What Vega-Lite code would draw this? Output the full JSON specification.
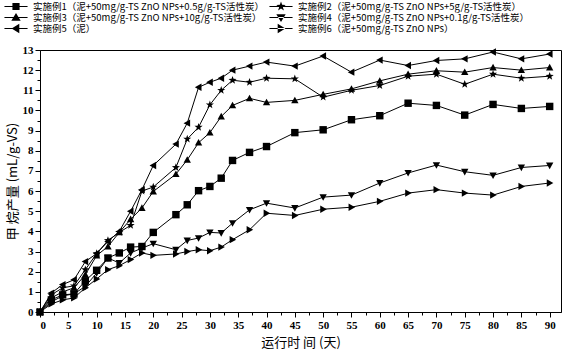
{
  "$schema": "https://vega.github.io/schema/vega-lite/v6.json",
  "width": 521,
  "height": 262,
  "autosize": {"type": "none"},
  "padding": {"left": 40, "top": 50, "right": 22, "bottom": 44},
  "background": "white",
  "config": {
    "view": {"stroke": "black", "strokeWidth": 1},
    "axis": {
      "domainColor": "black",
      "tickColor": "black",
      "labelColor": "black",
      "titleColor": "black",
      "grid": false,
      "labelFont": "Liberation Serif",
      "labelFontWeight": "bold",
      "labelFontSize": 11,
      "titleFont": "Noto Sans CJK SC",
      "titleFontWeight": "normal",
      "titleFontSize": 13
    }
  },
  "data": {
    "values": [
      {"d":0,"s":1,"v":0},{"d":2,"s":1,"v":0.6},{"d":4,"s":1,"v":0.85},{"d":6,"s":1,"v":0.9},{"d":8,"s":1,"v":1.55},{"d":10,"s":1,"v":2.07},{"d":12,"s":1,"v":2.68},{"d":14,"s":1,"v":2.93},{"d":16,"s":1,"v":3.22},{"d":18,"s":1,"v":3.25},{"d":20,"s":1,"v":3.95},{"d":24,"s":1,"v":4.83},{"d":26,"s":1,"v":5.32},{"d":28,"s":1,"v":6.02},{"d":30,"s":1,"v":6.23},{"d":32,"s":1,"v":6.64},{"d":34,"s":1,"v":7.52},{"d":37,"s":1,"v":7.92},{"d":40,"s":1,"v":8.21},{"d":45,"s":1,"v":8.9},{"d":50,"s":1,"v":9.04},{"d":55,"s":1,"v":9.54},{"d":60,"s":1,"v":9.74},{"d":65,"s":1,"v":10.36},{"d":70,"s":1,"v":10.25},{"d":75,"s":1,"v":9.77},{"d":80,"s":1,"v":10.3},{"d":85,"s":1,"v":10.1},{"d":90,"s":1,"v":10.2},
      {"d":0,"s":2,"v":0},{"d":2,"s":2,"v":0.85},{"d":4,"s":2,"v":1.2},{"d":6,"s":2,"v":1.3},{"d":8,"s":2,"v":2.1},{"d":10,"s":2,"v":2.9},{"d":12,"s":2,"v":3.55},{"d":14,"s":2,"v":3.95},{"d":16,"s":2,"v":4.3},{"d":18,"s":2,"v":6.0},{"d":20,"s":2,"v":6.2},{"d":24,"s":2,"v":7.17},{"d":26,"s":2,"v":8.58},{"d":28,"s":2,"v":9.17},{"d":30,"s":2,"v":10.28},{"d":32,"s":2,"v":11.0},{"d":34,"s":2,"v":11.5},{"d":37,"s":2,"v":11.4},{"d":40,"s":2,"v":11.6},{"d":45,"s":2,"v":11.57},{"d":50,"s":2,"v":10.66},{"d":55,"s":2,"v":11.0},{"d":60,"s":2,"v":11.24},{"d":65,"s":2,"v":11.7},{"d":70,"s":2,"v":11.8},{"d":75,"s":2,"v":11.3},{"d":80,"s":2,"v":11.8},{"d":85,"s":2,"v":11.6},{"d":90,"s":2,"v":11.7},
      {"d":0,"s":3,"v":0},{"d":2,"s":3,"v":0.7},{"d":4,"s":3,"v":1.0},{"d":6,"s":3,"v":1.2},{"d":8,"s":3,"v":1.85},{"d":10,"s":3,"v":2.8},{"d":12,"s":3,"v":3.25},{"d":14,"s":3,"v":3.95},{"d":16,"s":3,"v":4.6},{"d":18,"s":3,"v":5.16},{"d":20,"s":3,"v":5.98},{"d":24,"s":3,"v":6.84},{"d":26,"s":3,"v":7.55},{"d":28,"s":3,"v":8.4},{"d":30,"s":3,"v":8.9},{"d":32,"s":3,"v":9.7},{"d":34,"s":3,"v":10.25},{"d":37,"s":3,"v":10.6},{"d":40,"s":3,"v":10.4},{"d":45,"s":3,"v":10.5},{"d":50,"s":3,"v":10.8},{"d":55,"s":3,"v":11.07},{"d":60,"s":3,"v":11.47},{"d":65,"s":3,"v":11.8},{"d":70,"s":3,"v":11.97},{"d":75,"s":3,"v":11.9},{"d":80,"s":3,"v":12.13},{"d":85,"s":3,"v":12.0},{"d":90,"s":3,"v":12.13},
      {"d":0,"s":4,"v":0},{"d":2,"s":4,"v":0.5},{"d":4,"s":4,"v":0.8},{"d":6,"s":4,"v":0.9},{"d":8,"s":4,"v":1.27},{"d":10,"s":4,"v":1.93},{"d":12,"s":4,"v":2.68},{"d":14,"s":4,"v":2.43},{"d":16,"s":4,"v":2.93},{"d":18,"s":4,"v":3.17},{"d":20,"s":4,"v":3.39},{"d":24,"s":4,"v":3.09},{"d":26,"s":4,"v":3.55},{"d":28,"s":4,"v":3.67},{"d":30,"s":4,"v":3.95},{"d":32,"s":4,"v":3.92},{"d":34,"s":4,"v":4.41},{"d":37,"s":4,"v":5.07},{"d":40,"s":4,"v":5.4},{"d":45,"s":4,"v":5.16},{"d":50,"s":4,"v":5.7},{"d":55,"s":4,"v":5.8},{"d":60,"s":4,"v":6.4},{"d":65,"s":4,"v":6.9},{"d":70,"s":4,"v":7.29},{"d":75,"s":4,"v":6.96},{"d":80,"s":4,"v":6.78},{"d":85,"s":4,"v":7.17},{"d":90,"s":4,"v":7.27},
      {"d":0,"s":5,"v":0},{"d":2,"s":5,"v":0.94},{"d":4,"s":5,"v":1.36},{"d":6,"s":5,"v":1.6},{"d":8,"s":5,"v":2.5},{"d":10,"s":5,"v":2.9},{"d":12,"s":5,"v":3.5},{"d":14,"s":5,"v":4.0},{"d":16,"s":5,"v":5.0},{"d":18,"s":5,"v":6.07},{"d":20,"s":5,"v":7.27},{"d":24,"s":5,"v":8.33},{"d":26,"s":5,"v":9.37},{"d":28,"s":5,"v":11.15},{"d":30,"s":5,"v":11.4},{"d":32,"s":5,"v":11.6},{"d":34,"s":5,"v":12.0},{"d":37,"s":5,"v":12.2},{"d":40,"s":5,"v":12.4},{"d":45,"s":5,"v":12.2},{"d":50,"s":5,"v":12.7},{"d":55,"s":5,"v":11.9},{"d":60,"s":5,"v":12.5},{"d":65,"s":5,"v":12.23},{"d":70,"s":5,"v":12.48},{"d":75,"s":5,"v":12.56},{"d":80,"s":5,"v":12.9},{"d":85,"s":5,"v":12.56},{"d":90,"s":5,"v":12.8},
      {"d":0,"s":6,"v":0},{"d":2,"s":6,"v":0.4},{"d":4,"s":6,"v":0.6},{"d":6,"s":6,"v":0.7},{"d":8,"s":6,"v":1.2},{"d":10,"s":6,"v":1.64},{"d":12,"s":6,"v":2.1},{"d":14,"s":6,"v":2.3},{"d":16,"s":6,"v":2.6},{"d":18,"s":6,"v":2.93},{"d":20,"s":6,"v":2.81},{"d":24,"s":6,"v":2.88},{"d":26,"s":6,"v":3.0},{"d":28,"s":6,"v":3.09},{"d":30,"s":6,"v":3.04},{"d":32,"s":6,"v":3.22},{"d":34,"s":6,"v":3.59},{"d":37,"s":6,"v":4.08},{"d":40,"s":6,"v":4.9},{"d":45,"s":6,"v":4.79},{"d":50,"s":6,"v":5.1},{"d":55,"s":6,"v":5.2},{"d":60,"s":6,"v":5.49},{"d":65,"s":6,"v":5.9},{"d":70,"s":6,"v":6.07},{"d":75,"s":6,"v":5.9},{"d":80,"s":6,"v":5.8},{"d":85,"s":6,"v":6.23},{"d":90,"s":6,"v":6.4}
    ]
  },
  "encoding": {
    "x": {
      "field": "d", "type": "quantitative",
      "scale": {"domain": [0, 92], "nice": false, "zero": false},
      "axis": {
        "title": "运行时 间 (天)",
        "titlePadding": 6,
        "values": [0,2.5,5,7.5,10,12.5,15,17.5,20,22.5,25,27.5,30,32.5,35,37.5,40,42.5,45,47.5,50,52.5,55,57.5,60,62.5,65,67.5,70,72.5,75,77.5,80,82.5,85,87.5,90],
        "labelExpr": "datum.value % 5 === 0 ? format(datum.value, 'd') : ''",
        "tickSize": {"condition": {"test": "datum.value % 5 !== 0", "value": 3}, "value": 5},
        "labelPadding": 2
      }
    },
    "y": {
      "field": "v", "type": "quantitative",
      "scale": {"domain": [0, 13], "nice": false},
      "axis": {
        "title": "甲 烷产量 (mL/g-VS)",
        "titlePadding": 3,
        "values": [0,0.5,1,1.5,2,2.5,3,3.5,4,4.5,5,5.5,6,6.5,7,7.5,8,8.5,9,9.5,10,10.5,11,11.5,12,12.5,13],
        "labelExpr": "datum.value % 1 === 0 ? format(datum.value, 'd') : ''",
        "tickSize": {"condition": {"test": "datum.value % 1 !== 0", "value": 3}, "value": 5},
        "labelPadding": 2
      }
    }
  },
  "layer": [
    {
      "mark": {"type": "line", "color": "black", "strokeWidth": 1},
      "encoding": {"detail": {"field": "s", "type": "nominal"}}
    },
    {
      "transform": [{"filter": "datum.s == 1"}],
      "mark": {"type": "point", "filled": true, "color": "black", "opacity": 1, "size": 55, "shape": "square"}
    },
    {
      "transform": [{"filter": "datum.s == 2"}],
      "mark": {"type": "point", "filled": true, "color": "black", "opacity": 1, "size": 60, "shape": "M0,-1.1L0.26,-0.36L1.05,-0.34L0.42,0.14L0.65,0.89L0,0.44L-0.65,0.89L-0.42,0.14L-1.05,-0.34L-0.26,-0.36Z"}
    },
    {
      "transform": [{"filter": "datum.s == 3"}],
      "mark": {"type": "point", "filled": true, "color": "black", "opacity": 1, "size": 60, "shape": "M0,-0.95L0.95,0.75L-0.95,0.75Z"}
    },
    {
      "transform": [{"filter": "datum.s == 4"}],
      "mark": {"type": "point", "filled": true, "color": "black", "opacity": 1, "size": 60, "shape": "M0,0.95L0.95,-0.75L-0.95,-0.75Z"}
    },
    {
      "transform": [{"filter": "datum.s == 5"}],
      "mark": {"type": "point", "filled": true, "color": "black", "opacity": 1, "size": 60, "shape": "M-0.95,0L0.75,-0.95L0.75,0.95Z"}
    },
    {
      "transform": [{"filter": "datum.s == 6"}],
      "mark": {"type": "point", "filled": true, "color": "black", "opacity": 1, "size": 60, "shape": "M0.95,0L-0.75,-0.95L-0.75,0.95Z"}
    },
    {
      "transform": [{"filter": "datum.d < 0"}],
      "mark": {"type": "point", "filled": true, "color": "black", "opacity": 1},
      "encoding": {
        "shape": {
          "field": "s", "type": "nominal",
          "scale": {
            "domain": [1,2,3,4,5,6],
            "range": [
              "M-2.1,-0.09L2.1,-0.09L2.1,0.09L-2.1,0.09ZM-0.65,-0.65L0.65,-0.65L0.65,0.65L-0.65,0.65Z",
              "M-2.1,-0.09L2.1,-0.09L2.1,0.09L-2.1,0.09ZM0,-0.9L0.21,-0.3L0.85,-0.28L0.34,0.12L0.53,0.73L0,0.36L-0.53,0.73L-0.34,0.12L-0.85,-0.28L-0.21,-0.3Z",
              "M-2.1,-0.09L2.1,-0.09L2.1,0.09L-2.1,0.09ZM0,-0.8L0.85,0.6L-0.85,0.6Z",
              "M-2.1,-0.09L2.1,-0.09L2.1,0.09L-2.1,0.09ZM0,0.8L0.85,-0.6L-0.85,-0.6Z",
              "M-2.1,-0.09L2.1,-0.09L2.1,0.09L-2.1,0.09ZM-0.8,0L0.6,-0.85L0.6,0.85Z",
              "M-2.1,-0.09L2.1,-0.09L2.1,0.09L-2.1,0.09ZM0.8,0L-0.6,-0.85L-0.6,0.85Z"
            ]
          },
          "legend": {
            "orient": "none",
            "direction": "horizontal",
            "legendX": -29.5,
            "legendY": -49,
            "columns": 2,
            "title": null,
            "padding": 0,
            "symbolSize": 121,
            "symbolFillColor": "black",
            "symbolStrokeColor": "black",
            "symbolStrokeWidth": 0,
            "symbolOpacity": 1,
            "labelOffset": 11.5,
            "labelFont": "Noto Sans CJK SC",
            "labelFontSize": 9.5,
            "labelColor": "black",
            "labelLimit": 400,
            "rowPadding": 1,
            "columnPadding": 4,
            "labelExpr": "{'1': '实施例1（泥+50mg/g-TS ZnO NPs+0.5g/g-TS活性炭）', '2': '实施例2（泥+50mg/g-TS ZnO NPs+5g/g-TS活性炭）', '3': '实施例3（泥+50mg/g-TS ZnO NPs+10g/g-TS活性炭）', '4': '实施例4（泥+50mg/g-TS ZnO NPs+0.1g/g-TS活性炭）', '5': '实施例5（泥）', '6': '实施例6（泥+50mg/g-TS ZnO NPs）'}[datum.label]"
          }
        }
      }
    }
  ]
}
